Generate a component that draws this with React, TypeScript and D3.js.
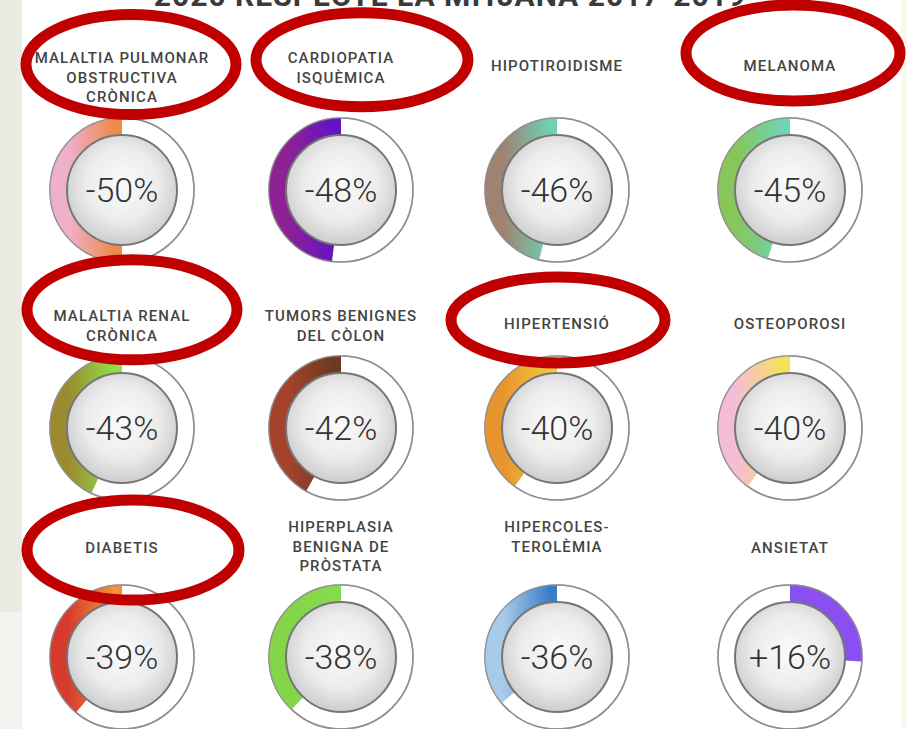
import React from 'react';
import * as d3 from 'd3';

const W = 907;
const H = 729;

const title = '2020 RESPECTE LA MITJANA 2017-2019';

// one entry per chart, label split the way it is printed
const categories: string[][] = [
  ['MALALTIA PULMONAR', 'OBSTRUCTIVA', 'CRÒNICA'],
  ['CARDIOPATIA', 'ISQUÈMICA'],
  ['HIPOTIROIDISME'],
  ['MELANOMA'],
  ['MALALTIA RENAL', 'CRÒNICA'],
  ['TUMORS BENIGNES', 'DEL CÒLON'],
  ['HIPERTENSIÓ'],
  ['OSTEOPOROSI'],
  ['DIABETIS'],
  ['HIPERPLASIA', 'BENIGNA DE', 'PRÒSTATA'],
  ['HIPERCOLES-', 'TEROLÈMIA'],
  ['ANSIETAT'],
];

// change in 2020 vs 2017-2019 (%)
const changes = [-50, -48, -46, -45, -43, -42, -40, -40, -39, -38, -36, 16];

// share of the ring that is filled, as drawn in the picture (%)
const ringFill = [50, 48, 46, 45, 43, 42, 40, 40, 39, 38, 36, 26];

// [outer side colour, colour near 12 o'clock]
const ringColors: [string, string][] = [
  ['#efb0cc', '#ee8a4a'],
  ['#8e2294', '#6412c4'],
  ['#a08272', '#6fd0b4'],
  ['#86c65a', '#72d2b4'],
  ['#9c8a30', '#8ee04a'],
  ['#a5432c', '#6c3a20'],
  ['#e8942e', '#f3c83a'],
  ['#f5bcd8', '#f5e25a'],
  ['#d63b2e', '#f0943a'],
  ['#84d648', '#88da4c'],
  ['#a9cbea', '#3a7ec6'],
  ['#8a4ff0', '#8a4ff0'],
];

// labels circled in red
const highlighted = ['MALALTIA PULMONAR', 'CARDIOPATIA', 'MELANOMA', 'MALALTIA RENAL', 'HIPERTENSIÓ', 'DIABETIS'];

// layout
const colX = d3.scaleOrdinal<number, number>().domain([0, 1, 2, 3]).range([122, 341, 557, 790]);
const rowY = d3.scaleOrdinal<number, number>().domain([0, 1, 2]).range([190, 428, 657]);
const labelTop = d3.scaleOrdinal<number, number>().domain([0, 1, 2]).range([58, 316, 527]);
const labelSingle = d3.scaleOrdinal<number, number>().domain([0, 1, 2]).range([66, 324, 548]);
const lineGap = 19.5;

const R_OUT = 72;
const R_IN = 55;

// hand-drawn ellipse nudges relative to the label block centre
const ellipseNudge: Record<string, { dx: number; dy: number; rx: number; ry: number }> = {
  'MALALTIA PULMONAR': { dx: 9, dy: -13, rx: 105, ry: 50 },
  CARDIOPATIA: { dx: 21, dy: -8, rx: 106, ry: 47 },
  MELANOMA: { dx: 3, dy: -13, rx: 107, ry: 48 },
  'MALALTIA RENAL': { dx: 10, dy: -16, rx: 105, ry: 50 },
  'HIPERTENSIÓ': { dx: 1, dy: -4, rx: 107, ry: 43 },
  DIABETIS: { dx: 11, dy: 2, rx: 106, ry: 50 },
};

const fill = d3.scaleLinear().domain([0, 100]).range([0, 2 * Math.PI]);
const arc = d3.arc<{ a: number }>()
  .innerRadius(R_IN)
  .outerRadius(R_OUT)
  .startAngle(0)
  .endAngle(d => d.a);

const fmt = (v: number) => (v > 0 ? `+${v}%` : `${v}%`);

export default function App() {
  const items = categories.map((lines, i) => {
    const row = Math.floor(i / 4);
    const col = i % 4;
    const cx = colX(col);
    const cy = rowY(row);
    const ys = lines.length === 1
      ? [labelSingle(row)]
      : lines.map((_, k) => labelTop(row) + k * lineGap);
    return { lines, i, cx, cy, ys, value: changes[i], share: ringFill[i], colors: ringColors[i] };
  });

  return (
    <svg width={W} height={H} style={{ position: 'absolute', left: 0, top: 0, background: '#fff' }}>
      <defs>
        <radialGradient id="face" cx="50%" cy="45%" r="55%">
          <stop offset="0%" stopColor="#fbfbfb" />
          <stop offset="60%" stopColor="#ececec" />
          <stop offset="100%" stopColor="#cdcdcd" />
        </radialGradient>
        {items.map(d => {
          const s = d.value < 0 ? -1 : 1;
          return (
            <linearGradient key={d.i} id={`ring-${d.i}`} gradientUnits="userSpaceOnUse"
              x1={s * R_OUT * 0.75} y1={0} x2={s * R_OUT * 0.1} y2={0}>
              <stop offset="0%" stopColor={d.colors[0]} />
              <stop offset="100%" stopColor={d.colors[1]} />
            </linearGradient>
          );
        })}
      </defs>

      <rect x={0} y={0} width={W} height={H} fill="#ffffff" />
      <rect x={0} y={0} width={22} height={612} fill="#ebebe4" />
      <rect x={0} y={612} width={22} height={H - 612} fill="#f3f3ef" />
      <rect x={901} y={0} width={6} height={H} fill="#f8f9ef" />

      <text x={450} y={6} textAnchor="middle" fontFamily="Roboto, sans-serif" fontWeight={700}
        fontSize={30} fill="#3a3a3a" letterSpacing={1}>{title}</text>

      {items.map(d => (
        <g key={d.i}>
          {d.lines.map((t, k) => (
            <text key={k} x={d.cx} y={d.ys[k]} textAnchor="middle" dominantBaseline="central"
              fontFamily="Roboto, sans-serif" fontWeight={500} fontSize={15} letterSpacing={1.1}
              fill="#444">{t}</text>
          ))}
          <g transform={`translate(${d.cx},${d.cy})`}>
            <circle r={R_OUT} fill="#fff" stroke="#8f8f8f" strokeWidth={1.6} />
            <path d={arc({ a: (d.value < 0 ? -1 : 1) * fill(d.share) }) || ''} fill={`url(#ring-${d.i})`} />
            <circle r={R_OUT} fill="none" stroke="#8f8f8f" strokeWidth={1.4} strokeOpacity={0.6} />
            <circle r={R_IN} fill="url(#face)" stroke="#767676" strokeWidth={2} />
            <text x={0} y={0} textAnchor="middle" dominantBaseline="central"
              fontFamily="Roboto, sans-serif" fontWeight={300} fontSize={34} fill="#333">
              {fmt(d.value)}
            </text>
          </g>
        </g>
      ))}

      {items.filter(d => highlighted.includes(d.lines[0])).map(d => {
        const n = ellipseNudge[d.lines[0]];
        const mid = (d.ys[0] + d.ys[d.ys.length - 1]) / 2;
        return (
          <ellipse key={`e-${d.i}`} cx={d.cx + n.dx} cy={mid + n.dy} rx={n.rx} ry={n.ry}
            fill="none" stroke="#c00000" strokeWidth={11} />
        );
      })}
    </svg>
  );
}
